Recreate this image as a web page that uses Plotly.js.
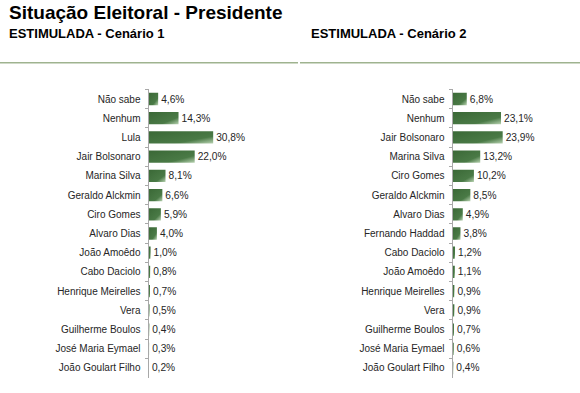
<!DOCTYPE html>
<html>
<head>
<meta charset="utf-8">
<script src="https://cdn.plot.ly/plotly-3.0.1.min.js"></script>
<style>
html,body{margin:0;padding:0;background:#fff;}
#chart{width:580px;height:393px;}
</style>
</head>
<body>
<div id="chart"></div>
<script>
const cats1 = ["Não sabe","Nenhum","Lula","Jair Bolsonaro","Marina Silva","Geraldo Alckmin","Ciro Gomes","Alvaro Dias","João Amoêdo","Cabo Daciolo","Henrique Meirelles","Vera","Guilherme Boulos","José Maria Eymael","João Goulart Filho"];
const vals1 = [4.6,14.3,30.8,22.0,8.1,6.6,5.9,4.0,1.0,0.8,0.7,0.5,0.4,0.3,0.2];
const cats2 = ["Não sabe","Nenhum","Jair Bolsonaro","Marina Silva","Ciro Gomes","Geraldo Alckmin","Alvaro Dias","Fernando Haddad","Cabo Daciolo","João Amoêdo","Henrique Meirelles","Vera","Guilherme Boulos","José Maria Eymael","João Goulart Filho"];
const vals2 = [6.8,23.1,23.9,13.2,10.2,8.5,4.9,3.8,1.2,1.1,0.9,0.9,0.7,0.6,0.4];

const titleText = "Situação Eleitoral - Presidente";
const sub1 = "ESTIMULADA - Cenário 1";
const sub2 = "ESTIMULADA - Cenário 2";

const fmt = v => v.toFixed(1).replace('.', ',') + '%';
const FONT = "Arial, 'Liberation Sans', sans-serif";
const W = 580, H = 393;

function barTrace(cats, vals, xa, ya) {
  return {
    type: 'bar', orientation: 'h',
    x: vals, y: cats, xaxis: xa, yaxis: ya,
    width: 0.64,
    marker: {color: '#43703f', line: {width: 0}},
    text: vals.map(fmt), textposition: 'outside', cliponaxis: false,
    constraintext: 'none',
    textfont: {family: FONT, size: 10.2, color: '#262626'},
    hoverinfo: 'skip'
  };
}

const yTop = 1 - 89.4 / H, yBot = 1 - 377.6 / H;
function yAxis(cats, anchor) {
  return {
    type: 'category', categoryorder: 'array', categoryarray: cats,
    range: [cats.length - 0.5, -0.5],
    domain: [yBot, yTop], anchor: anchor,
    showline: true, linecolor: '#a8a8a8', linewidth: 1,
    ticks: 'outside', tickson: 'boundaries', ticklen: 3, tickcolor: '#a8a8a8',
    ticklabelstandoff: 5,
    tickfont: {family: FONT, size: 10, color: '#262626'},
    showgrid: false, zeroline: false, fixedrange: true
  };
}
function xAxis(start, anchor) {
  return {
    domain: [start / W, (start + 126) / W], range: [0, 60], anchor: anchor,
    visible: false, showgrid: false, zeroline: false, fixedrange: true
  };
}

const layout = {
  width: W, height: H,
  margin: {l: 0, r: 0, t: 0, b: 0},
  paper_bgcolor: '#fff', plot_bgcolor: 'rgba(0,0,0,0)',
  showlegend: false,
  xaxis: xAxis(148.5, 'y'),
  yaxis: yAxis(cats1, 'x'),
  xaxis2: xAxis(452.5, 'y2'),
  yaxis2: yAxis(cats2, 'x2'),
  shapes: [
    {type: 'line', xref: 'paper', yref: 'paper', x0: 0, x1: 298 / W, y0: 1 - 62.7 / H, y1: 1 - 62.7 / H, line: {color: '#9fb38f', width: 1.5}},
    {type: 'line', xref: 'paper', yref: 'paper', x0: 300 / W, x1: 1, y0: 1 - 62.7 / H, y1: 1 - 62.7 / H, line: {color: '#9fb38f', width: 1.5}}
  ],
  annotations: [
    {text: '<b>' + titleText + '</b>', xref: 'paper', yref: 'paper', x: 7 / W, y: 1 - 12.5 / H, xanchor: 'left', yanchor: 'middle', showarrow: false, font: {family: FONT, size: 19, color: '#000'}},
    {text: '<b>' + sub1 + '</b>', xref: 'paper', yref: 'paper', x: 7 / W, y: 1 - 33.5 / H, xanchor: 'left', yanchor: 'middle', showarrow: false, font: {family: FONT, size: 13, color: '#000'}},
    {text: '<b>' + sub2 + '</b>', xref: 'paper', yref: 'paper', x: 309 / W, y: 1 - 33.5 / H, xanchor: 'left', yanchor: 'middle', showarrow: false, font: {family: FONT, size: 13, color: '#000'}}
  ]
};

Plotly.newPlot('chart', [barTrace(cats1, vals1, 'x', 'y'), barTrace(cats2, vals2, 'x2', 'y2')], layout, {staticPlot: true, displayModeBar: false}).then(function (gd) {
  const svg = gd.querySelector('svg.main-svg');
  const ns = 'http://www.w3.org/2000/svg';
  let defs = svg.querySelector('defs');
  if (!defs) { defs = document.createElementNS(ns, 'defs'); svg.insertBefore(defs, svg.firstChild); }
  const g = document.createElementNS(ns, 'linearGradient');
  g.setAttribute('id', 'barGrad');
  g.setAttribute('x1', '0'); g.setAttribute('y1', '0');
  g.setAttribute('x2', '1'); g.setAttribute('y2', '1');
  [[0, '#3a6836'], [0.7, '#4a7a46'], [1, '#b9d3b2']].forEach(function (s) {
    const st = document.createElementNS(ns, 'stop');
    st.setAttribute('offset', s[0]);
    st.setAttribute('stop-color', s[1]);
    g.appendChild(st);
  });
  defs.appendChild(g);
  gd.querySelectorAll('.bars .point path').forEach(function (p) {
    p.style.fill = 'url(#barGrad)';
  });
});
</script>
</body>
</html>
